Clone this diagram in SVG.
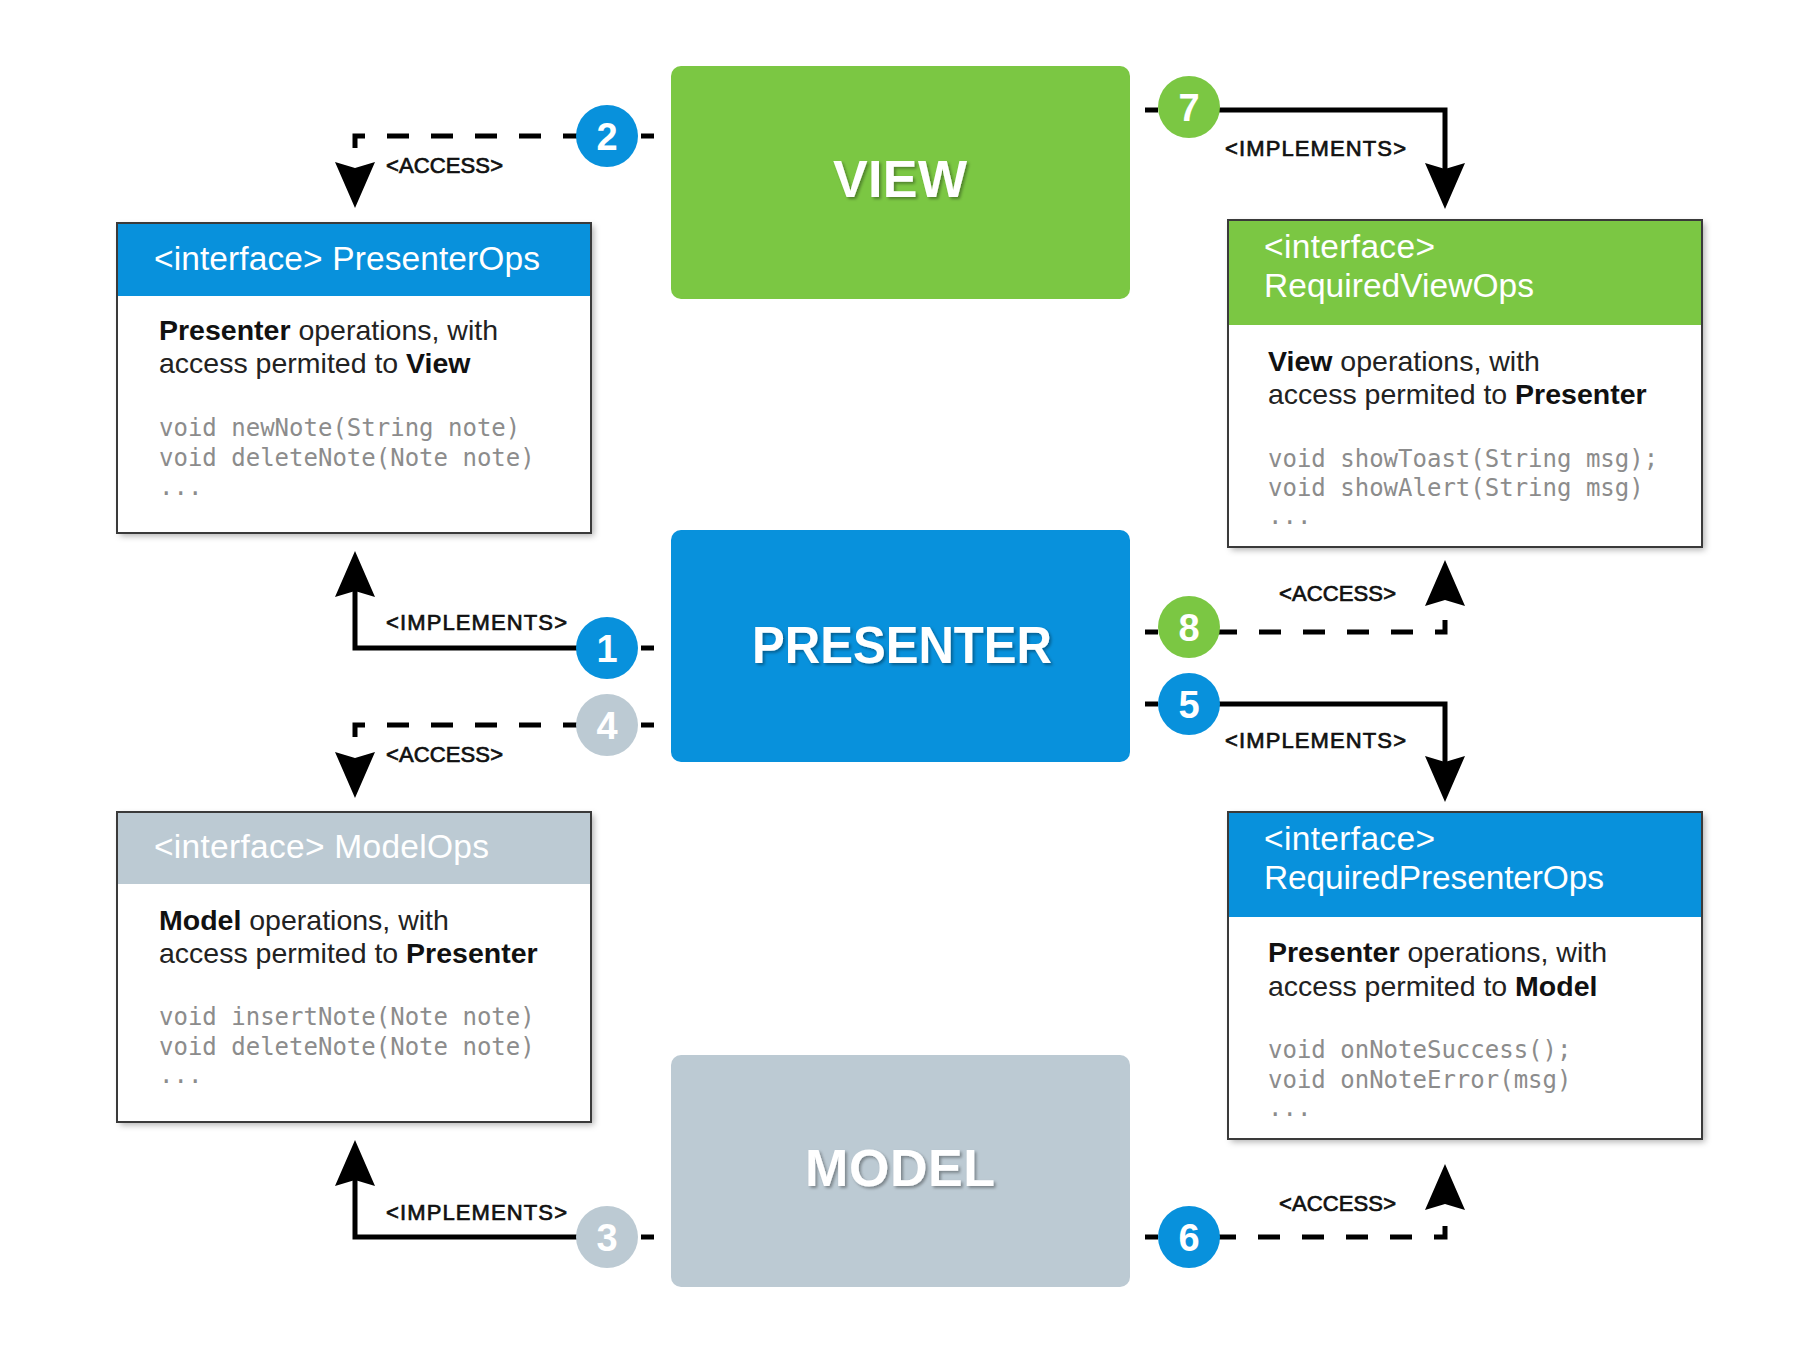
<svg xmlns="http://www.w3.org/2000/svg" width="1820" height="1368" viewBox="0 0 1820 1368">
<defs>
<style>
.blue{fill:#0891dc}
.green{fill:#7bc743}
.grey{fill:#bccad3}
.title{font-family:"Liberation Sans",Arial,sans-serif;font-weight:bold;font-size:52px;fill:#fff;text-anchor:middle}
.hdr{font-family:"Liberation Sans",Arial,sans-serif;font-size:33.5px;fill:#fff}
.body{font-family:"Liberation Sans",Arial,sans-serif;font-size:28.5px;fill:#222}
.body .b{font-weight:bold;fill:#111}
.code{font-family:"DejaVu Sans Mono","Liberation Mono",monospace;font-size:24px;fill:#8c8c8c}
.lbl{font-family:"Liberation Sans",Arial,sans-serif;font-size:22px;fill:#111;stroke:#111;stroke-width:0.7}
.num{font-family:"Liberation Sans",Arial,sans-serif;font-size:38px;font-weight:bold;fill:#fff;text-anchor:middle}
.solid{fill:none;stroke:#000;stroke-width:5}
.dash{fill:none;stroke:#000;stroke-width:5;stroke-dasharray:22 22}
.outline{fill:none;stroke:#3a3a3a;stroke-width:2}
</style>
<filter id="boxShadow" x="-10%" y="-10%" width="120%" height="120%">
<feDropShadow dx="3" dy="3" stdDeviation="3" flood-color="#000" flood-opacity="0.3"/>
</filter>
<filter id="txtShadow" x="-10%" y="-20%" width="120%" height="150%">
<feDropShadow dx="2" dy="2" stdDeviation="1.5" flood-color="#000" flood-opacity="0.35"/>
</filter>
<path id="ah" d="M0,0 L-20,-46 L0,-40 L20,-46 Z" fill="#000"/>
</defs>
<rect width="1820" height="1368" fill="#fff"/>

<g id="connectors">
<!-- 2: VIEW -> PresenterOps (access) -->
<path class="dash" d="M355,148 V136 H607"/>
<path class="solid" d="M641,136 H654"/>
<use href="#ah" transform="translate(355,208)"/>
<text class="lbl" x="386" y="173" textLength="117">&lt;ACCESS&gt;</text>
<!-- 1: PRESENTER -> PresenterOps (implements) -->
<path class="solid" d="M607,648 H355 V590"/>
<path class="solid" d="M641,648 H654"/>
<use href="#ah" transform="translate(355,551) rotate(180)"/>
<text class="lbl" x="386" y="630" textLength="181">&lt;IMPLEMENTS&gt;</text>
<!-- 4: PRESENTER -> ModelOps (access) -->
<path class="dash" d="M355,737 V725 H607"/>
<path class="solid" d="M641,725 H654"/>
<use href="#ah" transform="translate(355,798)"/>
<text class="lbl" x="386" y="762" textLength="117">&lt;ACCESS&gt;</text>
<!-- 3: MODEL -> ModelOps (implements) -->
<path class="solid" d="M607,1237 H355 V1179"/>
<path class="solid" d="M641,1237 H654"/>
<use href="#ah" transform="translate(355,1140) rotate(180)"/>
<text class="lbl" x="386" y="1220" textLength="181">&lt;IMPLEMENTS&gt;</text>
<!-- 7: VIEW -> RequiredViewOps (implements) -->
<path class="solid" d="M1189,110 H1445 V170"/>
<path class="solid" d="M1145,110 H1158"/>
<use href="#ah" transform="translate(1445,209)"/>
<text class="lbl" x="1225" y="156" textLength="181">&lt;IMPLEMENTS&gt;</text>
<!-- 8: PRESENTER -> RequiredViewOps (access) -->
<path class="dash" d="M1445,620 V632 H1189"/>
<path class="solid" d="M1145,632 H1158"/>
<use href="#ah" transform="translate(1445,560) rotate(180)"/>
<text class="lbl" x="1279" y="601" textLength="117">&lt;ACCESS&gt;</text>
<!-- 5: PRESENTER -> RequiredPresenterOps (implements) -->
<path class="solid" d="M1189,704 H1445 V763"/>
<path class="solid" d="M1145,704 H1158"/>
<use href="#ah" transform="translate(1445,802)"/>
<text class="lbl" x="1225" y="748" textLength="181">&lt;IMPLEMENTS&gt;</text>
<!-- 6: MODEL -> RequiredPresenterOps (access) -->
<path class="dash" d="M1445,1226 V1237 H1189"/>
<path class="solid" d="M1145,1237 H1158"/>
<use href="#ah" transform="translate(1445,1164) rotate(180)"/>
<text class="lbl" x="1279" y="1211" textLength="117">&lt;ACCESS&gt;</text>
</g>

<g id="badges">
<g id="badge-2"><circle class="blue" cx="607" cy="136" r="31"/><text class="num" x="607" y="150">2</text></g>
<g id="badge-1"><circle class="blue" cx="607" cy="648" r="31"/><text class="num" x="607" y="662">1</text></g>
<g id="badge-4"><circle class="grey" cx="607" cy="725" r="31"/><text class="num" x="607" y="739">4</text></g>
<g id="badge-3"><circle class="grey" cx="607" cy="1237" r="31"/><text class="num" x="607" y="1251">3</text></g>
<g id="badge-7"><circle class="green" cx="1189" cy="107" r="31"/><text class="num" x="1189" y="121">7</text></g>
<g id="badge-8"><circle class="green" cx="1189" cy="627" r="31"/><text class="num" x="1189" y="641">8</text></g>
<g id="badge-5"><circle class="blue" cx="1189" cy="704" r="31"/><text class="num" x="1189" y="718">5</text></g>
<g id="badge-6"><circle class="blue" cx="1189" cy="1237" r="31"/><text class="num" x="1189" y="1251">6</text></g>
</g>

<g id="view">
<rect class="green" x="671" y="66" width="459" height="233" rx="10"/>
<text class="title" x="900" y="197" textLength="134" filter="url(#txtShadow)">VIEW</text>
</g>
<g id="presenter">
<rect class="blue" x="671" y="530" width="459" height="232" rx="10"/>
<text class="title" x="902" y="663" textLength="300" lengthAdjust="spacingAndGlyphs" filter="url(#txtShadow)">PRESENTER</text>
</g>
<g id="model">
<rect class="grey" x="671" y="1055" width="459" height="232" rx="10"/>
<text class="title" x="900" y="1186" textLength="190" filter="url(#txtShadow)">MODEL</text>
</g>

<g id="presenter-ops">
<rect x="117" y="223" width="474" height="310" fill="#fff" filter="url(#boxShadow)"/>
<rect class="blue" x="117" y="223" width="474" height="73"/>
<rect class="outline" x="117" y="223" width="474" height="310"/>
<text class="hdr" x="154" y="270" textLength="386">&lt;interface&gt; PresenterOps</text>
<text class="body" x="159" y="340"><tspan class="b">Presenter</tspan> operations, with</text>
<text class="body" x="159" y="373">access permited to <tspan class="b">View</tspan></text>
<text class="code" x="159" y="436">void newNote(String note)</text>
<text class="code" x="159" y="466">void deleteNote(Note note)</text>
<text class="code" x="159" y="495">...</text>
</g>

<g id="model-ops">
<rect x="117" y="812" width="474" height="310" fill="#fff" filter="url(#boxShadow)"/>
<rect class="grey" x="117" y="812" width="474" height="72"/>
<rect class="outline" x="117" y="812" width="474" height="310"/>
<text class="hdr" x="154" y="858" textLength="335">&lt;interface&gt; ModelOps</text>
<text class="body" x="159" y="930"><tspan class="b">Model</tspan> operations, with</text>
<text class="body" x="159" y="963">access permited to <tspan class="b">Presenter</tspan></text>
<text class="code" x="159" y="1025">void insertNote(Note note)</text>
<text class="code" x="159" y="1055">void deleteNote(Note note)</text>
<text class="code" x="159" y="1083">...</text>
</g>

<g id="required-view-ops">
<rect x="1228" y="220" width="474" height="327" fill="#fff" filter="url(#boxShadow)"/>
<rect class="green" x="1228" y="220" width="474" height="105"/>
<rect class="outline" x="1228" y="220" width="474" height="327"/>
<text class="hdr" x="1264" y="258" textLength="171">&lt;interface&gt;</text>
<text class="hdr" x="1264" y="297" textLength="270">RequiredViewOps</text>
<text class="body" x="1268" y="371"><tspan class="b">View</tspan> operations, with</text>
<text class="body" x="1268" y="404">access permited to <tspan class="b">Presenter</tspan></text>
<text class="code" x="1268" y="467">void showToast(String msg);</text>
<text class="code" x="1268" y="496">void showAlert(String msg)</text>
<text class="code" x="1268" y="524">...</text>
</g>

<g id="required-presenter-ops">
<rect x="1228" y="812" width="474" height="327" fill="#fff" filter="url(#boxShadow)"/>
<rect class="blue" x="1228" y="812" width="474" height="105"/>
<rect class="outline" x="1228" y="812" width="474" height="327"/>
<text class="hdr" x="1264" y="850" textLength="171">&lt;interface&gt;</text>
<text class="hdr" x="1264" y="889" textLength="340">RequiredPresenterOps</text>
<text class="body" x="1268" y="962"><tspan class="b">Presenter</tspan> operations, with</text>
<text class="body" x="1268" y="996">access permited to <tspan class="b">Model</tspan></text>
<text class="code" x="1268" y="1058">void onNoteSuccess();</text>
<text class="code" x="1268" y="1088">void onNoteError(msg)</text>
<text class="code" x="1268" y="1116">...</text>
</g>
</svg>
